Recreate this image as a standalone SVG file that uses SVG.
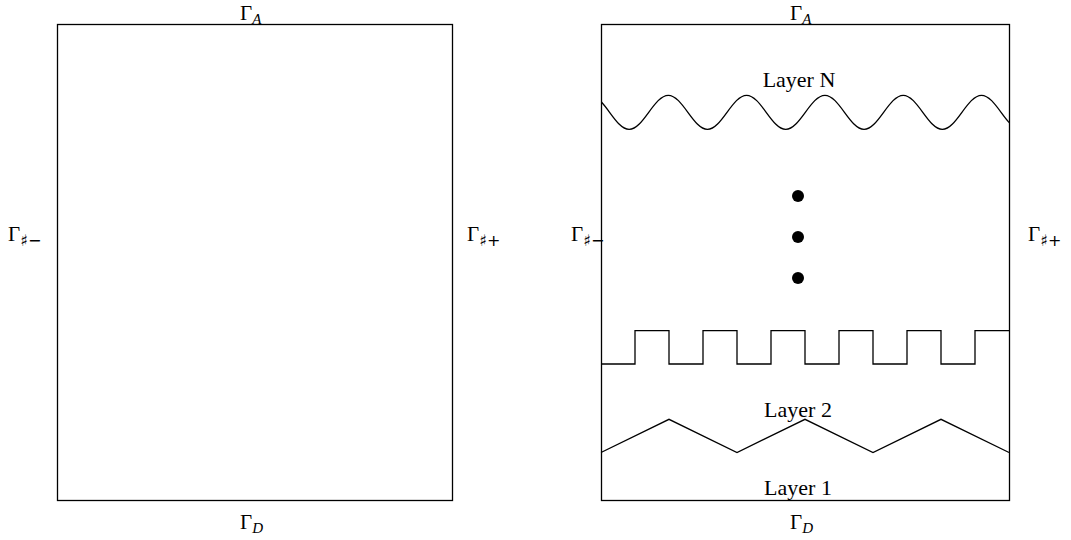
<svg xmlns="http://www.w3.org/2000/svg" width="1071" height="540" viewBox="0 0 1071 540">
<style>
.ln{fill:none;stroke:#000;stroke-width:1.3;stroke-linejoin:miter}
.g{font-family:"Liberation Serif","DejaVu Serif",serif;font-size:21px;fill:#000}
.sub{font-size:15px;font-style:italic}
.subs{font-size:16px;font-family:"DejaVu Sans","Liberation Serif",sans-serif}
.lay{font-family:"Liberation Serif","DejaVu Serif",serif;font-size:22px;fill:#000;text-anchor:middle}
</style>
<defs>
<clipPath id="boxclip"><rect x="601" y="0" width="408" height="540"/></clipPath>
</defs>
<rect width="1071" height="540" fill="#fff"/>
<g id="left-domain">
<rect class="ln" x="57.5" y="24.5" width="395" height="476"/>
<text class="g" x="240" y="20">Γ<tspan class="sub" dy="4">A</tspan></text>
<text class="g" x="240" y="529">Γ<tspan class="sub" dy="4">D</tspan></text>
<text class="g" x="8" y="241">Γ<tspan class="subs" dy="5">♯−</tspan></text>
<text class="g" x="467" y="241">Γ<tspan class="subs" dy="5">♯+</tspan></text>
</g>
<g id="right-domain">
<rect class="ln" x="601.5" y="24.5" width="408" height="476"/>
<text class="g" x="790" y="20">Γ<tspan class="sub" dy="4">A</tspan></text>
<text class="g" x="790" y="529">Γ<tspan class="sub" dy="4">D</tspan></text>
<text class="g" x="571" y="241">Γ<tspan class="subs" dy="5">♯−</tspan></text>
<text class="g" x="1028" y="241">Γ<tspan class="subs" dy="5">♯+</tspan></text>
</g>
<g id="layer-N">
<text class="lay" x="799" y="87">Layer N</text>
<path class="ln" clip-path="url(#boxclip)" d="M590,95.3 c14.26,0 24.89,34 39.15,34 s24.89,-34 39.15,-34 s24.89,34 39.15,34 s24.89,-34 39.15,-34 s24.89,34 39.15,34 s24.89,-34 39.15,-34 s24.89,34 39.15,34 s24.89,-34 39.15,-34 s24.89,34 39.15,34 s24.89,-34 39.15,-34 s24.89,34 39.15,34"/>
</g>
<g id="ellipsis">
<circle cx="798" cy="196" r="6"/>
<circle cx="798" cy="237" r="6"/>
<circle cx="798" cy="278" r="6"/>
</g>
<g id="layer-3-interface">
<path class="ln" d="M601,364 H635 V330.7 H669 V364 H703 V330.7 H737 V364 H771 V330.7 H805 V364 H839 V330.7 H873 V364 H907 V330.7 H941 V364 H975 V330.7 H1009"/>
</g>
<g id="layer-2">
<text class="lay" x="798" y="417">Layer 2</text>
<path class="ln" d="M601,452.5 L669,419.3 L737,452.5 L805,419.3 L873,452.5 L941,419.3 L1009,452.5"/>
</g>
<g id="layer-1">
<text class="lay" x="798" y="495">Layer 1</text>
</g>
</svg>
